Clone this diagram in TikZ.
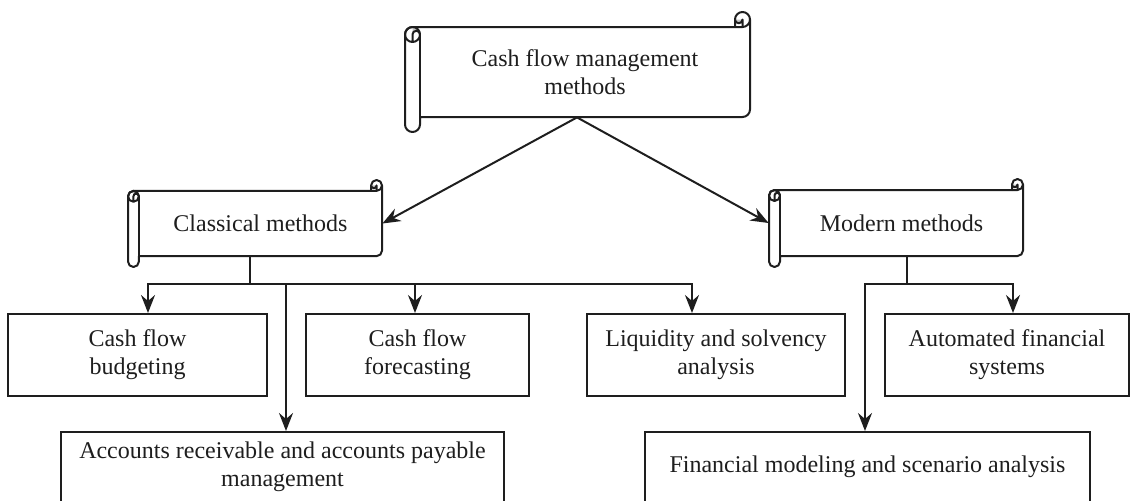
\documentclass[tikz,border=0pt]{standalone}
\usepackage{fontspec}
\setmainfont{Liberation Serif}
\usetikzlibrary{arrows.meta}
\definecolor{ink}{HTML}{1E1E1E}
\definecolor{curl}{HTML}{C4C4C4}

\tikzset{
  every node/.style={font=\fontsize{12}{14}\selectfont, text=ink},
  boxsize/.style 2 args={minimum width=0.5pt*(#1), minimum height=0.5pt*(#2)},
  box/.style={draw=ink, line width=1pt, fill=white, align=center, inner sep=0pt},
  wire/.style={draw=ink, line width=1pt},
  arr/.style={wire, -{Stealth[length=9pt,width=7pt,inset=3pt]}},
  scrollline/.style={draw=ink, line width=1pt, line join=round},
}

% Horizontal scroll banner: #1 name, #2 left, #3 top, #4 right, #5 bottom, #6 text.
% Node #1 is the flat body (text area), node #1o the full outline extent.
\newcommand\scrollbanner[6]{%
  \pgfmathsetmacro\sbC{0.125*min(#4-#2,#5-#3)}%
  \pgfmathsetmacro\sbH{\sbC/2}%
  \pgfmathsetmacro\sbQ{\sbC/4}%
  \draw[scrollline, fill=white]
    (#2,#3+\sbC+\sbH) arc[start angle=180,end angle=270,radius=\sbH]
    -- (#4-\sbC,#3+\sbC) -- (#4-\sbC,#3+\sbH)
    arc[start angle=180,end angle=360,radius=\sbH]
    -- (#4,#5-\sbC-\sbH) arc[start angle=0,end angle=90,radius=\sbH]
    -- (#2+\sbC,#5-\sbC) -- (#2+\sbC,#5-\sbH)
    arc[start angle=0,end angle=180,radius=\sbH] -- cycle;
  % shaded inside of the two curls
  \fill[curl] (#2+\sbH,#3+\sbC) arc[start angle=270,end angle=360,radius=\sbH]
    arc[start angle=0,end angle=-180,radius=\sbQ] -- cycle;
  \fill[curl] (#4-\sbH,#3+\sbH) arc[start angle=0,end angle=180,radius=\sbQ] -- cycle;
  % curl details
  \draw[scrollline] (#2,#3+\sbC+\sbH) arc[start angle=180,end angle=360,radius=\sbH];
  \draw[scrollline] (#4-\sbC,#3+\sbC) -- (#4-\sbH,#3+\sbC)
    arc[start angle=90,end angle=0,radius=\sbH];
  \draw[scrollline] (#4-\sbH,#3+\sbC) -- (#4-\sbH,#3+\sbH)
    arc[start angle=0,end angle=180,radius=\sbQ];
  \draw[scrollline] (#2+\sbH,#3+2*\sbC) -- (#2+\sbH,#3+\sbC+\sbH)
    arc[start angle=180,end angle=360,radius=\sbQ]
    arc[start angle=0,end angle=180,radius=\sbH];
  \draw[scrollline] (#2+\sbC,#3+\sbC+\sbH) -- (#2+\sbC,#5-\sbC);
  \node[inner sep=0pt, boxsize={#4-#2}{#5-#3}] (#1o) at ({(#2+#4)/2},{(#3+#5)/2}) {};
  \node[inner sep=0pt, align=center, boxsize={#4-#2-\sbC}{#5-#3-2*\sbC}]
    (#1) at ({(#2+\sbC+#4)/2},{(#3+#5)/2}) {#6};
}

\begin{document}
\begin{tikzpicture}[x=0.5pt, y=-0.5pt]
  \useasboundingbox (0,0) rectangle (1137,500);

  % headings
  \scrollbanner{top}{405}{12}{750}{132}{Cash flow management\\methods}
  \scrollbanner{cls}{128}{180}{382}{267}{Classical methods}
  \scrollbanner{mod}{769}{179}{1023}{267}{Modern methods}

  % method boxes
  \node[box, boxsize={259}{82}] (bud)  at (137.5,355) {Cash flow\\budgeting};
  \node[box, boxsize={223}{82}] (fore) at (417.5,355) {Cash flow\\forecasting};
  \node[box, boxsize={258}{82}] (liq)  at (716,355)   {Liquidity and solvency\\analysis};
  \node[box, boxsize={244}{82}] (auto) at (1007,355)  {Automated financial\\systems};
  \node[box, boxsize={443}{70}] (ar)   at (282.5,467) {Accounts receivable and accounts payable\\management};
  \node[box, boxsize={445}{70}] (fm)   at (867.5,467) {Financial modeling and scenario analysis};

  % top level split
  \draw[arr] ([xshift=-4pt]top.south) -- (cls.east);
  \draw[arr] ([xshift=-4pt]top.south) -- (modo.west);

  % classical branch
  \coordinate (clsstem) at ([xshift=-5.2pt]cls.south);
  \coordinate (clsbus)  at ([yshift=-13.5pt]clsstem);
  \coordinate (budin)   at ([xshift=5.25pt]bud.north);
  \coordinate (forin)   at ([xshift=-1.25pt]fore.north);
  \coordinate (liqin)   at ([xshift=-12pt]liq.north);
  \coordinate (arin)    at ([xshift=1.75pt]ar.north);
  \draw[wire] (clsstem) -- (clsbus);
  \draw[arr] (clsbus) -| (budin);
  \draw[arr] (clsbus) -| (forin);
  \draw[arr] (clsbus) -| (liqin);
  \draw[arr] (arin |- clsbus) -- (arin);

  % modern branch
  \coordinate (modstem) at ([xshift=2.8pt]mod.south);
  \coordinate (modbus)  at ([yshift=-14pt]modstem);
  \coordinate (autoin)  at ([xshift=3pt]auto.north);
  \coordinate (fmin)    at ([xshift=-1.25pt]fm.north);
  \draw[wire] (modstem) -- (modbus);
  \draw[arr] (modbus) -| (autoin);
  \draw[arr] (modbus) -| (fmin);
\end{tikzpicture}
\end{document}
